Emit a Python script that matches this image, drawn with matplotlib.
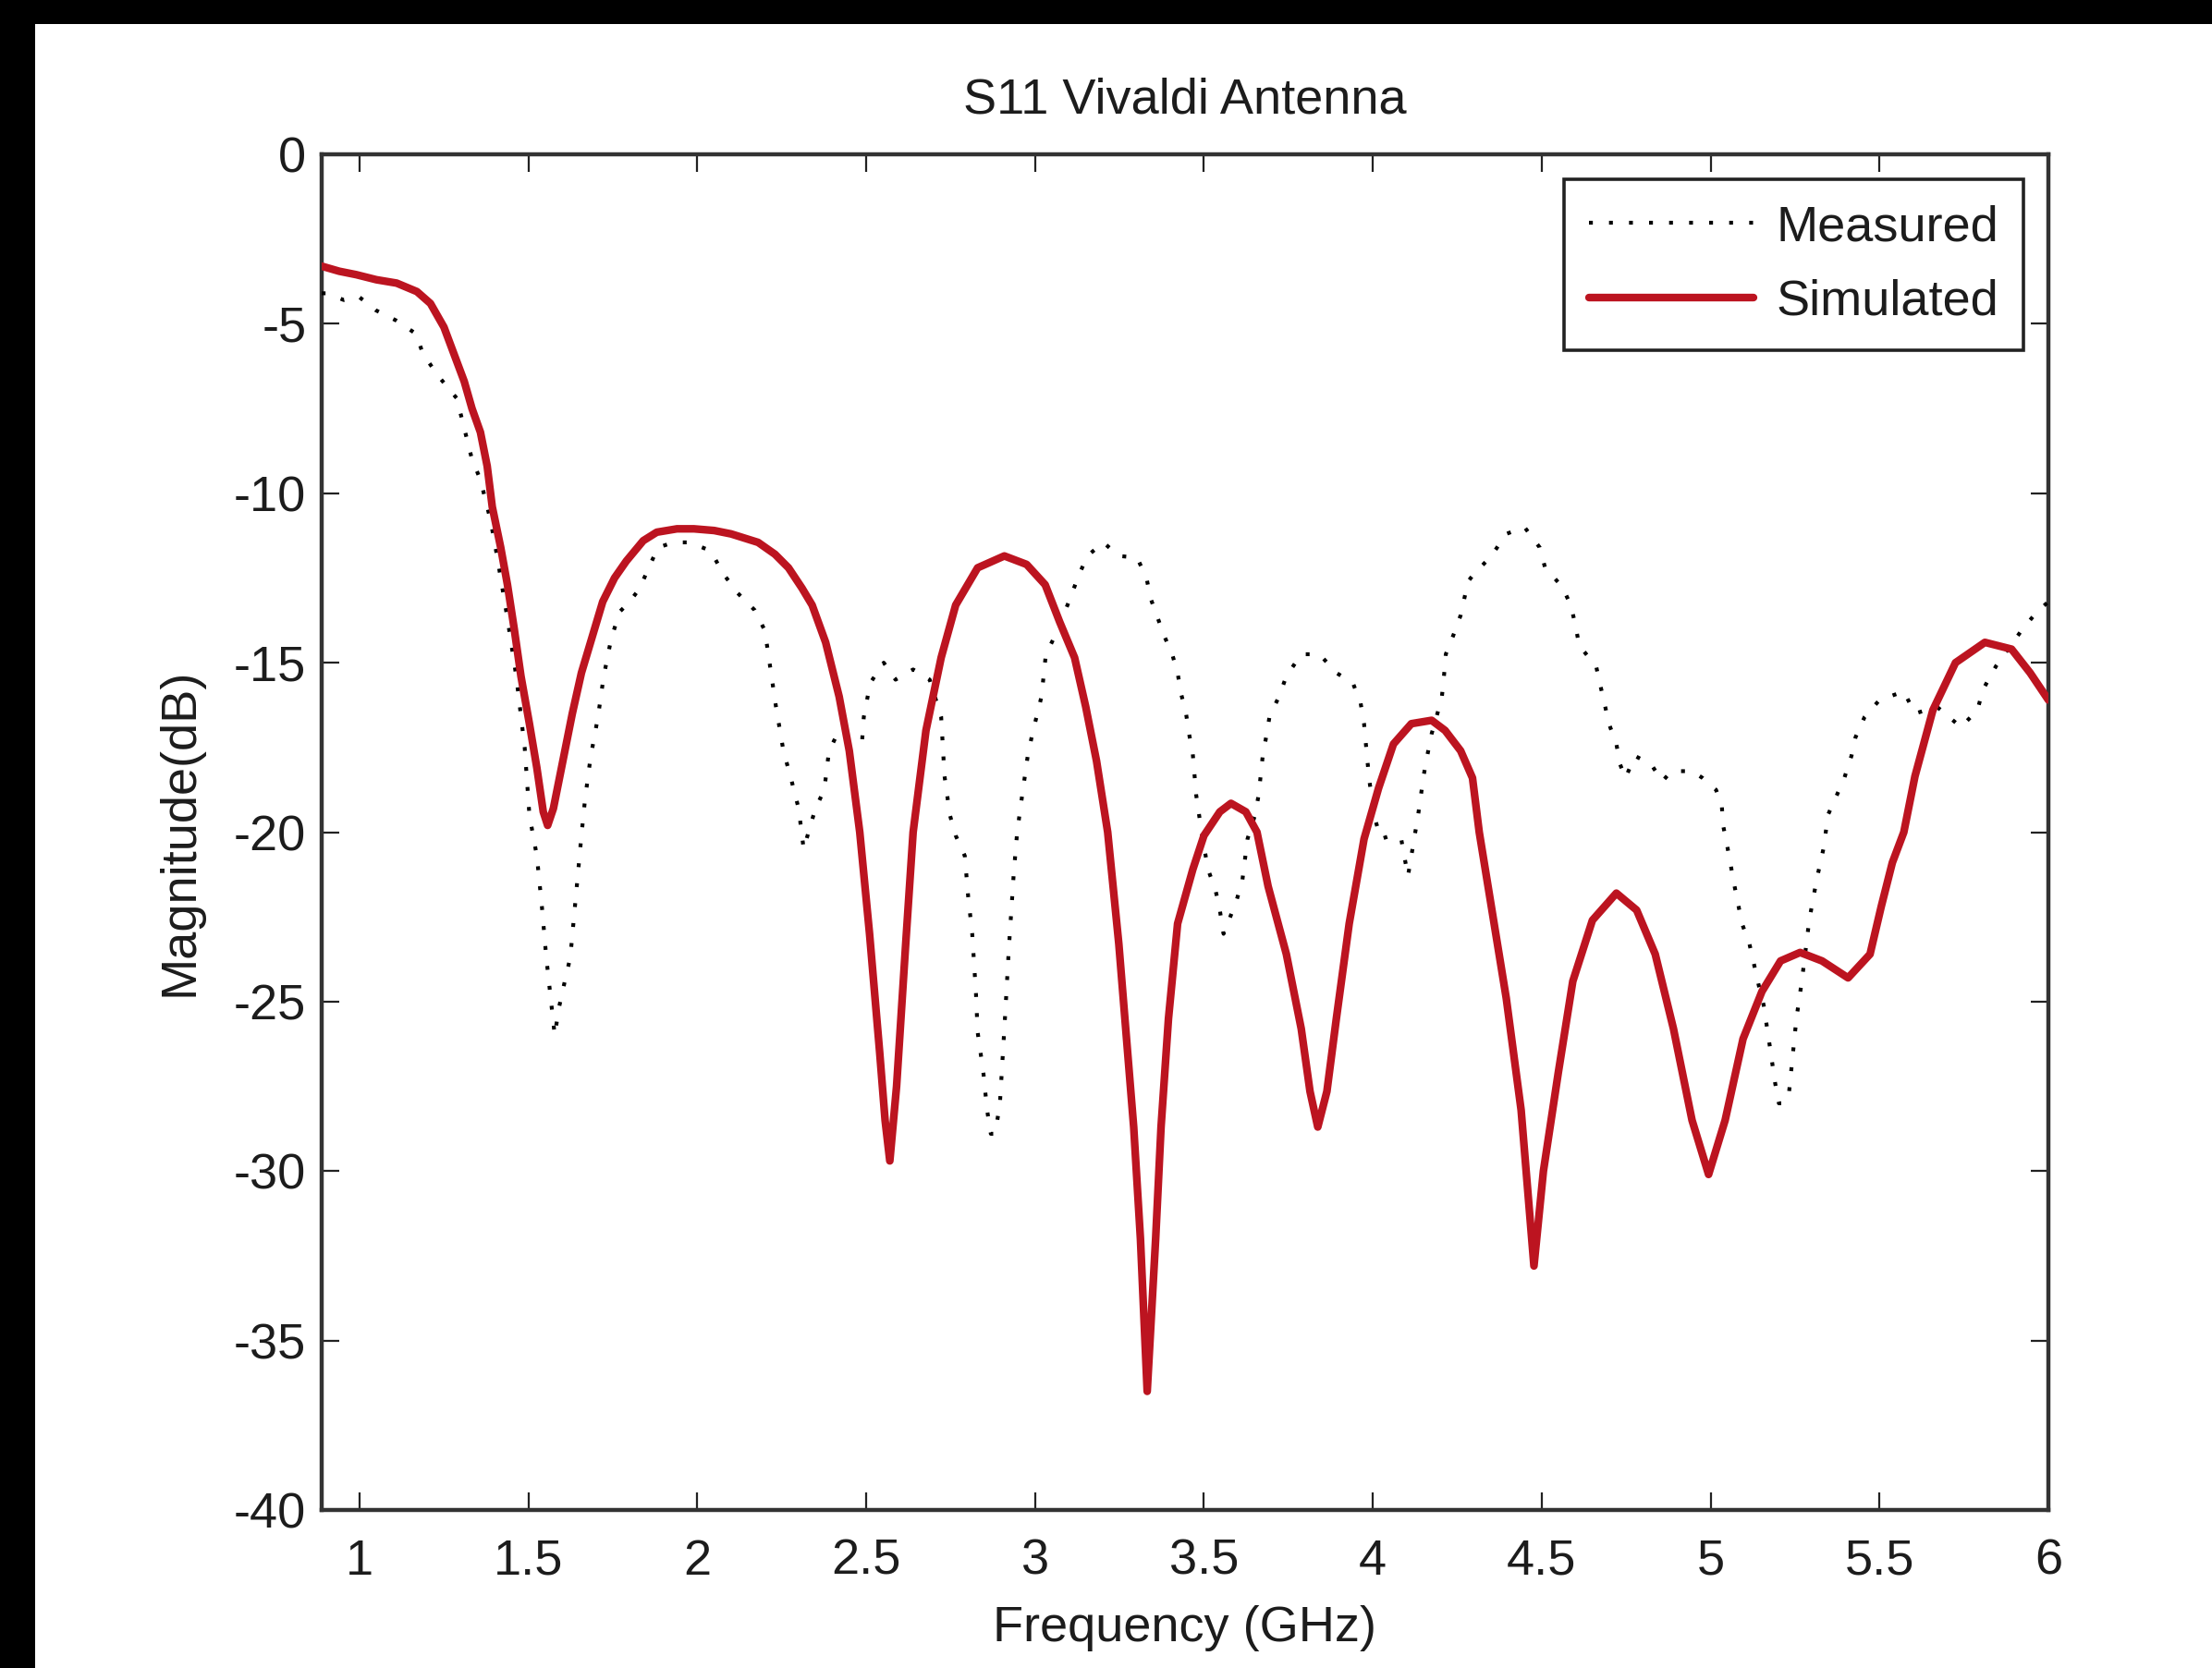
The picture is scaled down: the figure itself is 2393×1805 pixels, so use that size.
import matplotlib
matplotlib.use("Agg")
import matplotlib.pyplot as plt
from matplotlib.patches import Rectangle

plt.rcParams['font.family'] = ['Liberation Sans', 'DejaVu Sans']
plt.rcParams['axes.unicode_minus'] = False

# ---------------- data ----------------
meas_freq = [0.888, 0.903, 0.954, 0.998, 1.048, 1.108, 1.168, 1.188, 1.238, 1.288,
             1.318, 1.333, 1.358, 1.388, 1.408, 1.438, 1.464, 1.489, 1.503, 1.525,
             1.540, 1.553, 1.565, 1.578, 1.590, 1.610, 1.624, 1.646, 1.657, 1.668,
             1.684, 1.706, 1.723, 1.745, 1.770, 1.800, 1.830, 1.856, 1.884, 1.930,
             1.977, 2.040, 2.075, 2.120, 2.170, 2.200, 2.217, 2.233, 2.255, 2.277,
             2.300, 2.315, 2.335, 2.350, 2.376, 2.390, 2.420, 2.456, 2.488, 2.493,
             2.512, 2.552, 2.587, 2.639, 2.688, 2.722, 2.732, 2.748, 2.765, 2.792,
             2.802, 2.814, 2.825, 2.830, 2.847, 2.858, 2.869, 2.882, 2.896, 2.912,
             2.922, 2.937, 2.947, 2.962, 2.979, 2.992, 3.019, 3.032, 3.062, 3.082,
             3.106, 3.128, 3.155, 3.202, 3.248, 3.302, 3.330, 3.342, 3.362, 3.382,
             3.406, 3.422, 3.432, 3.447, 3.456, 3.467, 3.477, 3.493, 3.512, 3.534,
             3.547, 3.558, 3.574, 3.597, 3.614, 3.629, 3.651, 3.662, 3.674, 3.684,
             3.694, 3.722, 3.744, 3.788, 3.842, 3.892, 3.941, 3.964, 3.974, 3.984,
             3.990, 4.006, 4.024, 4.054, 4.084, 4.104, 4.119, 4.134, 4.151, 4.162,
             4.174, 4.204, 4.211, 4.216, 4.238, 4.260, 4.282, 4.298, 4.351, 4.395,
             4.449, 4.494, 4.510, 4.560, 4.586, 4.600, 4.611, 4.661, 4.672, 4.688,
             4.699, 4.721, 4.732, 4.748, 4.776, 4.824, 4.857, 4.884, 4.945, 4.976,
             5.016, 5.033, 5.037, 5.049, 5.071, 5.093, 5.115, 5.142, 5.157, 5.175,
             5.191, 5.202, 5.217, 5.232, 5.243, 5.254, 5.270, 5.292, 5.314, 5.336,
             5.347, 5.374, 5.396, 5.417, 5.429, 5.456, 5.500, 5.572, 5.605, 5.670,
             5.741, 5.790, 5.806, 5.845, 5.924, 5.962, 6.000]
meas_db = [-4.1, -4.1, -4.3, -4.2, -4.6, -4.9, -5.3, -5.9, -6.6, -7.2,
           -8.4, -9.0, -9.6, -10.8, -11.9, -13.7, -15.4, -17.5, -19.5, -20.7,
           -22.2, -23.7, -24.8, -26.0, -25.2, -24.3, -23.7, -21.3, -20.1, -19.0,
           -17.8, -16.6, -15.4, -14.3, -13.5, -13.2, -12.8, -12.2, -11.6, -11.45,
           -11.45, -11.7, -12.35, -12.95, -13.45, -14.05, -15.2, -16.3, -17.6, -18.4,
           -19.3, -20.5, -19.8, -19.3, -18.75, -17.6, -17.0, -17.2, -17.3, -16.6,
           -15.6, -15.0, -15.5, -15.2, -15.5, -16.6, -18.35, -19.5, -20.1, -20.7,
           -21.9, -23.0, -24.75, -25.9, -27.1, -28.2, -28.9, -28.9, -28.0, -25.3,
           -23.5, -21.2, -20.0, -18.9, -17.7, -17.1, -16.0, -14.75, -14.15, -13.65,
           -13.05, -12.45, -11.85, -11.45, -11.85, -11.9, -12.5, -13.1, -13.65, -14.2,
           -14.75, -15.3, -15.9, -16.5, -17.1, -17.7, -18.9, -20.0, -21.1, -21.7,
           -22.3, -23.0, -22.6, -22.0, -21.4, -20.2, -19.5, -18.9, -17.75, -17.2,
           -16.6, -16.0, -15.4, -14.75, -14.75, -15.3, -15.6, -16.2, -16.8, -17.9,
           -18.5, -19.6, -20.2, -20.1, -20.2, -21.3, -20.4, -19.5, -18.3, -17.7,
           -17.1, -16.05, -15.35, -14.75, -14.2, -13.6, -12.6, -12.4, -11.85, -11.2,
           -11.0, -11.6, -12.2, -12.75, -13.3, -13.9, -14.5, -15.1, -15.6, -16.3,
           -16.8, -17.4, -18.0, -18.4, -17.75, -18.0, -18.5, -18.2, -18.2, -18.4,
           -18.75, -19.2, -19.8, -20.4, -21.6, -22.7, -23.3, -24.5, -25.1, -26.3,
           -27.4, -28.0, -28.0, -27.7, -26.6, -25.5, -24.4, -22.6, -21.4, -20.4,
           -19.5, -18.9, -18.4, -17.75, -17.2, -16.6, -16.1, -15.85, -16.5, -16.3,
           -16.9, -16.4, -15.8, -15.1, -14.0, -13.55, -13.2]

sim_freq = [0.888, 0.94, 0.99, 1.05, 1.11, 1.17, 1.21, 1.25, 1.28, 1.31,
            1.333, 1.358, 1.378, 1.393, 1.418, 1.438, 1.458, 1.478, 1.503, 1.525,
            1.544, 1.557, 1.574, 1.600, 1.630, 1.657, 1.690, 1.720, 1.755, 1.790,
            1.840, 1.880, 1.940, 1.990, 2.050, 2.100, 2.180, 2.230, 2.270, 2.310,
            2.340, 2.380, 2.420, 2.450, 2.481, 2.510, 2.540, 2.556, 2.570, 2.590,
            2.617, 2.639, 2.677, 2.722, 2.765, 2.830, 2.909, 2.975, 3.030, 3.073,
            3.117, 3.150, 3.182, 3.215, 3.248, 3.270, 3.292, 3.312, 3.332, 3.357,
            3.373, 3.395, 3.422, 3.467, 3.500, 3.547, 3.580, 3.624, 3.657, 3.690,
            3.744, 3.788, 3.814, 3.837, 3.864, 3.892, 3.930, 3.974, 4.017, 4.061,
            4.114, 4.174, 4.214, 4.260, 4.295, 4.315, 4.351, 4.395, 4.439, 4.477,
            4.505, 4.549, 4.592, 4.650, 4.721, 4.781, 4.836, 4.890, 4.945, 4.994,
            5.043, 5.096, 5.152, 5.207, 5.265, 5.330, 5.407, 5.472, 5.505, 5.538,
            5.572, 5.605, 5.658, 5.725, 5.812, 5.891, 5.946, 6.000]
sim_db = [-3.3, -3.45, -3.55, -3.7, -3.8, -4.05, -4.4, -5.1, -5.9, -6.7,
          -7.5, -8.2, -9.2, -10.4, -11.6, -12.7, -14.0, -15.4, -16.8, -18.1,
          -19.4, -19.8, -19.3, -18.0, -16.5, -15.3, -14.2, -13.2, -12.5, -12.0,
          -11.4, -11.15, -11.05, -11.05, -11.1, -11.2, -11.45, -11.8, -12.2, -12.8,
          -13.3, -14.4, -16.0, -17.6, -20.0, -23.0, -26.5, -28.5, -29.7, -27.5,
          -23.3, -20.0, -17.0, -14.85, -13.3, -12.2, -11.85, -12.1, -12.7, -13.8,
          -14.85, -16.3, -17.9, -20.0, -23.3, -26.0, -28.7, -32.0, -36.5, -32.0,
          -28.7, -25.5, -22.7, -21.1, -20.1, -19.4, -19.15, -19.4, -20.0, -21.6,
          -23.6, -25.8, -27.65, -28.7, -27.65, -25.5, -22.7, -20.2, -18.7, -17.4,
          -16.8, -16.7, -17.0, -17.6, -18.4, -20.0, -22.2, -24.9, -28.2, -32.8,
          -30.0, -27.1, -24.4, -22.6, -21.8, -22.3, -23.6, -25.8, -28.5, -30.1,
          -28.5, -26.1, -24.7, -23.8, -23.55, -23.8, -24.3, -23.6, -22.2, -20.9,
          -20.0, -18.35, -16.4, -15.0, -14.4, -14.6, -15.3, -16.1]

x_ticks = [1, 1.5, 2, 2.5, 3, 3.5, 4, 4.5, 5, 5.5, 6]
x_ticklabels = ['1', '1.5', '2', '2.5', '3', '3.5', '4', '4.5', '5', '5.5', '6']
y_ticks = [0, -5, -10, -15, -20, -25, -30, -35, -40]
y_ticklabels = ['0', '-5', '-10', '-15', '-20', '-25', '-30', '-35', '-40']

title = 'S11 Vivaldi Antenna'
xlabel = 'Frequency (GHz)'
ylabel = 'Magnitude(dB)'
series_names = ['Measured', 'Simulated']

# ---------------- figure ----------------
W, H = 2393, 1805
DPI = 100
fig = plt.figure(figsize=(W / DPI, H / DPI), dpi=DPI, facecolor='white')

# black strips on top and left of the picture
fig.add_artist(Rectangle((0, 1 - 26 / H), 1, 26 / H, transform=fig.transFigure,
                         facecolor='black', edgecolor='none', zorder=0))
fig.add_artist(Rectangle((0, 0), 38 / W, 1, transform=fig.transFigure,
                         facecolor='black', edgecolor='none', zorder=0))

L, R, T, B = 348, 2216, 167, 1634
ax = fig.add_axes([L / W, 1 - B / H, (R - L) / W, (B - T) / H])

FS = 39
txt_color = '#1c1c1c'

ax.plot(meas_freq, meas_db, color='black', linewidth=3.0,
        linestyle=(0, (1.0, 4.2)), dash_capstyle='butt', label=series_names[0], zorder=3)
ax.plot(sim_freq, sim_db, color='#BC1420', linewidth=6.0,
        solid_joinstyle='round', solid_capstyle='round', label=series_names[1], zorder=4)

ax.set_xlim(0.888, 6.0)
ax.set_ylim(-40, 0)
ax.set_xticks(x_ticks)
ax.set_xticklabels(x_ticklabels)
ax.set_yticks(y_ticks)
ax.set_yticklabels(y_ticklabels)

ax.tick_params(axis='both', which='major', direction='in', length=14, width=1.6,
               colors='#222222', labelcolor=txt_color, labelsize=FS,
               top=True, right=True)
ax.tick_params(axis='x', pad=22)
ax.tick_params(axis='y', pad=12)

for s in ax.spines.values():
    s.set_linewidth(3.2)
    s.set_color('#333333')

ax.set_title(title, fontsize=FS, color=txt_color, pad=32)
ax.set_xlabel(xlabel, fontsize=FS, color=txt_color, labelpad=16)
ax.set_ylabel(ylabel, fontsize=FS, color=txt_color, labelpad=24)

leg = ax.legend(loc='upper right', fontsize=FS, frameon=True, fancybox=False,
                borderaxespad=0.5, borderpad=0.5, handlelength=3.28,
                handletextpad=0.45, labelspacing=0.56)
leg.get_frame().set_edgecolor('#222222')
leg.get_frame().set_linewidth(2.6)
leg.get_frame().set_facecolor('white')
leg.get_frame().set_alpha(1.0)
for t in leg.get_texts():
    t.set_color(txt_color)

fig.savefig('out.png', dpi=DPI, facecolor='white')
